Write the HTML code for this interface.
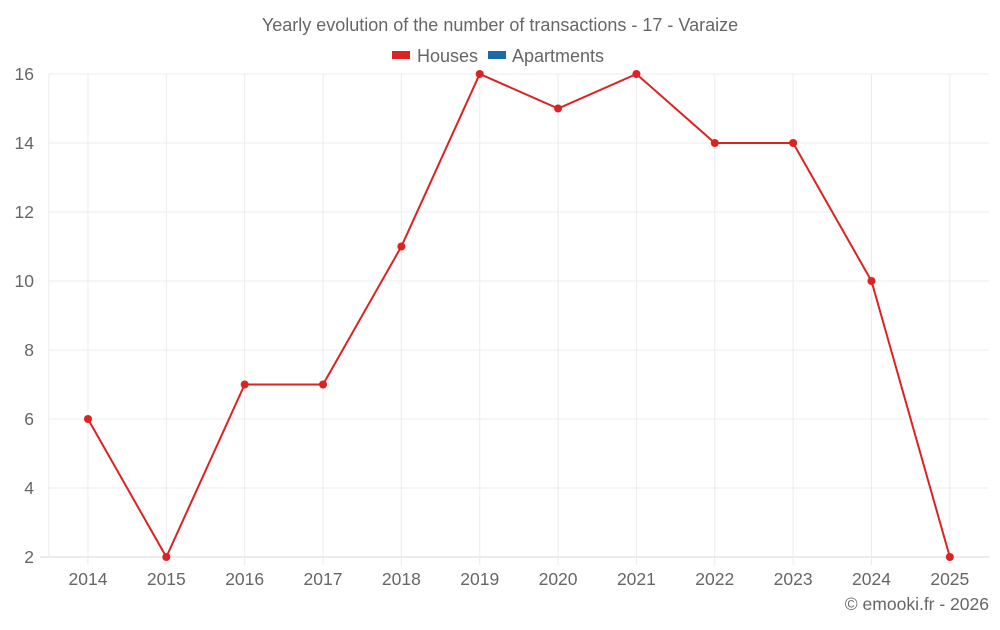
<!DOCTYPE html>
<html><head><meta charset="utf-8"><style>
body{margin:0;background:#fff;font-family:"Liberation Sans",sans-serif;}
svg text{font-family:"Liberation Sans",sans-serif;fill:#666;}
</style></head><body>
<svg id="chart" width="1000" height="625">
<text x="500" y="31" text-anchor="middle" font-size="18">Yearly evolution of the number of transactions - 17 - Varaize</text>
<g>
<g><rect x="392" y="51" width="18" height="8" fill="#dd2222"/><text x="417" y="62" font-size="18">Houses</text></g>
<g><rect x="488" y="51" width="18" height="8" fill="#1a6aa6"/><text x="512" y="62" font-size="18">Apartments</text></g>
</g>
<g id="grid"></g><g id="axes"></g><g id="series"></g>
<text x="989" y="610" text-anchor="end" font-size="17.5">© emooki.fr - 2026</text>
</svg>
<script>
const categories=["2014","2015","2016","2017","2018","2019","2020","2021","2022","2023","2024","2025"];
const houses=[6,2,7,7,11,16,15,16,14,14,10,2];
const yTicks=[2,4,6,8,10,12,14,16];
const NS="http://www.w3.org/2000/svg";
const L=48.8,R=989,T=74,B=557,yMin=2,yMax=16;
const band=(R-L)/categories.length;
const x=i=>L+band*(i+0.5);
const y=v=>B-(v-yMin)/(yMax-yMin)*(B-T);
function mk(tag,attrs,parent){const e=document.createElementNS(NS,tag);for(const k in attrs)e.setAttribute(k,attrs[k]);parent.appendChild(e);return e;}
const grid=document.getElementById('grid'),axes=document.getElementById('axes'),series=document.getElementById('series');
yTicks.forEach(v=>{
 const l=mk('line',{x1:L,x2:R,y1:y(v),y2:y(v),stroke:v===yMin?'#d8d8d8':'#ececec','stroke-width':1},grid);
 
 
 const t=mk('text',{x:34,y:y(v)+6,'text-anchor':'end','font-size':17.5},axes);t.textContent=v;
 
 
});
mk('line',{x1:40,x2:L,y1:B,y2:B,stroke:'#d8d8d8'},grid);
mk('line',{x1:L,x2:L,y1:T,y2:B,stroke:'#ececec'},grid);
categories.forEach((c,i)=>{
 const l=mk('line',{x1:x(i),x2:x(i),y1:T,y2:B+8,stroke:'#ececec'},grid);
 
 
 const t=mk('text',{x:x(i),y:585,'text-anchor':'middle','font-size':17.5},axes);t.textContent=c;
 
 
});
const p=mk('polyline',{points:houses.map((v,i)=>x(i)+','+y(v)).join(' '),fill:'none',stroke:'#dd2222','stroke-width':2},series);


houses.forEach((v,i)=>{
 const c=mk('circle',{cx:x(i),cy:y(v),r:4,fill:'#dd2222'},series);
 
 
});
</script>
</body></html>
